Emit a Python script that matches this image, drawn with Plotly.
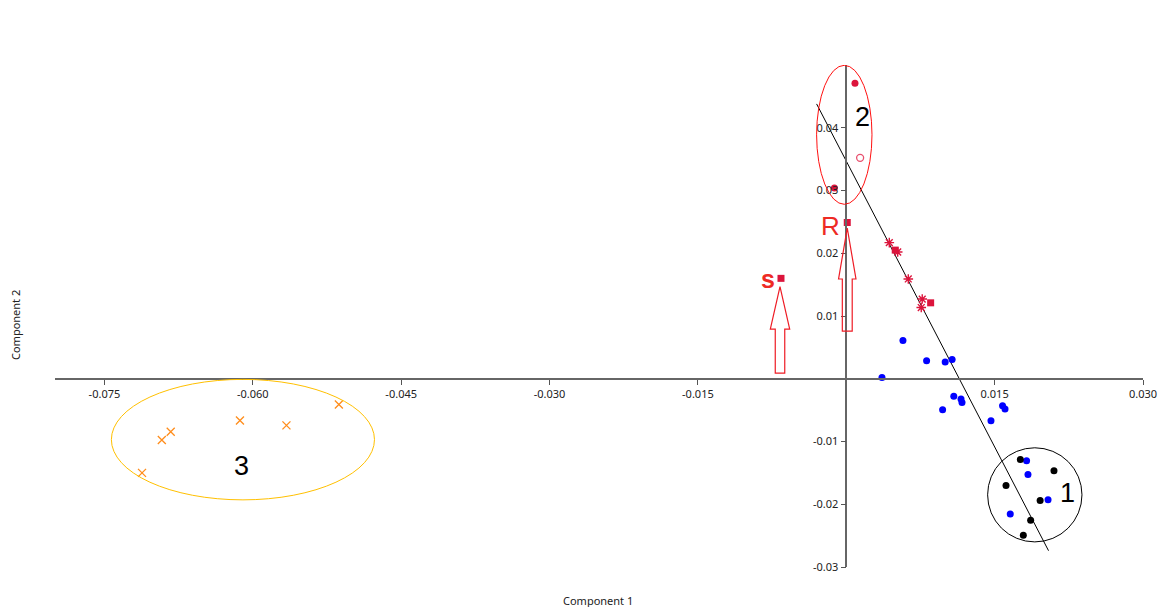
import plotly.graph_objects as go

# ---- data (Component 1, Component 2) ----
g2_filled_x = [0.00088, -0.0012]
g2_filled_y = [0.0471, 0.0304]
g2_open_x = [0.0014]
g2_open_y = [0.0352]

star_x = [0.00435, 0.0052, 0.00627, 0.00768, 0.00758]
star_y = [0.0217, 0.0202, 0.0159, 0.0127, 0.01135]

square_x = [0.0001, -0.0066, 0.00495, 0.00853]
square_y = [0.0249, 0.0160, 0.0205, 0.0121]

blue_x = [0.00573, 0.00812, 0.0100, 0.0107, 0.00361, 0.00974, 0.01087, 0.0116,
          0.0117, 0.0158, 0.01605, 0.01463, 0.01823, 0.01837, 0.0204, 0.01658]
blue_y = [0.0061, 0.00287, 0.00266, 0.00308, 0.0002, -0.00494, -0.0028, -0.00324,
          -0.00377, -0.0043, -0.00483, -0.00669, -0.01306, -0.01524, -0.0193, -0.02155]

black_x = [0.0176, 0.0210, 0.01615, 0.0196, 0.01864, 0.0179]
black_y = [-0.01285, -0.01465, -0.0170, -0.0194, -0.02256, -0.02495]

orange_x = [-0.0513, -0.0613, -0.0566, -0.0683, -0.0692, -0.0712]
orange_y = [-0.0041, -0.00664, -0.00743, -0.00844, -0.00977, -0.0150]

trend_x = [-0.0030, 0.02045]
trend_y = [0.0438, -0.0274]

x_ticks = [-0.075, -0.060, -0.045, -0.030, -0.015, 0.015, 0.030]
x_tick_labels = ["-0.075", "-0.060", "-0.045", "-0.030", "-0.015", "0.015", "0.030"]
y_ticks = [-0.03, -0.02, -0.01, 0.01, 0.02, 0.03, 0.04]
y_tick_labels = ["-0.03", "-0.02", "-0.01", "0.01", "0.02", "0.03", "0.04"]

# group ellipses: (x0, y0, x1, y1, colour)
ellipses = [
    (-0.0030, 0.0278, 0.0026, 0.04995, "#FF1010"),
    (0.01429, -0.0260, 0.02383, -0.0110, "#000000"),
    (-0.0743, -0.0193, -0.0477, -0.0001, "#FFC000"),
]
# hollow arrows: (x centre, tip y, head base y, bottom y, head half width, shaft half width)
arrows = [
    (-0.0067, 0.0147, 0.0079, 0.0009, 0.00098, 0.00048),
    (0.0001, 0.0240, 0.0159, 0.0076, 0.00088, 0.00050),
]
group_labels = [("2", 0.0016, 0.0417), ("1", 0.0224, -0.0182), ("3", -0.0611, -0.0139)]

XR = [-0.080, 0.030]
YR = [-0.030, 0.050]

fig = go.Figure()

fig.add_trace(go.Scatter(x=trend_x, y=trend_y, mode="lines",
                         line=dict(color="black", width=1), hoverinfo="skip"))
fig.add_trace(go.Scatter(x=g2_filled_x, y=g2_filled_y, mode="markers",
                         marker=dict(color="#DC143C", size=7)))
fig.add_trace(go.Scatter(x=g2_open_x, y=g2_open_y, mode="markers",
                         marker=dict(color="#E8506E", size=7, symbol="circle-open",
                                     line=dict(width=1.3))))
fig.add_trace(go.Scatter(x=star_x, y=star_y, mode="markers",
                         marker=dict(color="#DC143C", size=8, symbol="asterisk-open",
                                     line=dict(width=1.4, color="#DC143C"))))
fig.add_trace(go.Scatter(x=square_x, y=square_y, mode="markers",
                         marker=dict(color="#DC143C", size=7, symbol="square")))
fig.add_trace(go.Scatter(x=blue_x, y=blue_y, mode="markers",
                         marker=dict(color="#0000FF", size=7)))
fig.add_trace(go.Scatter(x=black_x, y=black_y, mode="markers",
                         marker=dict(color="#000000", size=7)))
fig.add_trace(go.Scatter(x=orange_x, y=orange_y, mode="markers",
                         marker=dict(color="#FF8C1A", size=8, symbol="x-thin-open",
                                     line=dict(width=1.3, color="#FF8C1A"))))

shapes = []
for x0, y0, x1, y1, c in ellipses:
    shapes.append(dict(type="circle", xref="x", yref="y", x0=x0, y0=y0, x1=x1, y1=y1,
                       line=dict(color=c, width=1)))
for xc, ty, hy, by, hw, sw in arrows:
    path = (f"M {xc},{ty} L {xc+hw},{hy} L {xc+sw},{hy} L {xc+sw},{by} "
            f"L {xc-sw},{by} L {xc-sw},{hy} L {xc-hw},{hy} Z")
    shapes.append(dict(type="path", xref="x", yref="y", path=path,
                       line=dict(color="#EE1C25", width=1.2)))

annotations = []
for t, x, y in group_labels:
    annotations.append(dict(text=t, x=x, y=y, xref="x", yref="y", showarrow=False,
                            font=dict(size=27, color="black", family="Liberation Sans, Arial")))
annotations.append(dict(text="R", x=-0.0016, y=0.0244, xref="x", yref="y", showarrow=False,
                        font=dict(size=26, color="#EE2A24", family="Liberation Sans, Arial")))
annotations.append(dict(text="<b>s</b>", x=-0.0079, y=0.0159, xref="x", yref="y", showarrow=False,
                        font=dict(size=25, color="#EE2A24", family="Liberation Sans, Arial")))

# page has an 8px body margin; plot area spans page px x 55..1143, y 65..567
W, H = 1167, 599
ml, mr, mt, mb = 47, 32, 57, 40
pw, ph = W - ml - mr, H - mt - mb
left_px, bottom_px = 8 + ml, 8 + H - mb

annotations.append(dict(text="Component 1", xref="paper", yref="paper",
                        x=(598 - left_px) / pw, y=(bottom_px - 600) / ph,
                        xanchor="center", yanchor="middle",
                        showarrow=False, font=dict(size=11, color="#222")))
annotations.append(dict(text="Component 2", textangle=-90, xref="paper", yref="paper",
                        x=(15 - left_px) / pw, y=(bottom_px - 325) / ph,
                        xanchor="center", yanchor="middle",
                        showarrow=False, font=dict(size=11, color="#222")))

fig.update_layout(
    width=W, height=H,
    margin=dict(l=ml, r=mr, t=mt, b=mb),
    paper_bgcolor="white", plot_bgcolor="white",
    showlegend=False,
    font=dict(family="Noto Sans, Open Sans, sans-serif", size=11, color="#222"),
    shapes=shapes, annotations=annotations,
    xaxis=dict(range=XR, anchor="free", position=(0 - YR[0]) / (YR[1] - YR[0]),
               showgrid=False, zeroline=False, showline=True, linecolor="#666666",
               linewidth=1.5, ticks="outside", ticklen=5, tickcolor="#555",
               tickvals=x_ticks, ticktext=x_tick_labels, tickfont=dict(size=11)),
    yaxis=dict(range=YR, anchor="free", position=(0 - XR[0]) / (XR[1] - XR[0]),
               showgrid=False, zeroline=False, showline=True, linecolor="#666666",
               linewidth=1.5, ticks="outside", ticklen=5, tickcolor="#555",
               tickvals=y_ticks, ticktext=y_tick_labels, tickfont=dict(size=11)),
)

fig.write_html("out.html")
